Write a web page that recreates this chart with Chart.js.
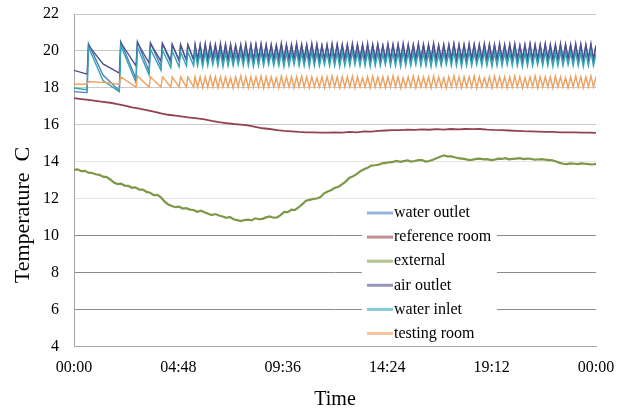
<!DOCTYPE html>
<html>
<head>
<meta charset="utf-8">
<script src="https://cdn.jsdelivr.net/npm/chart.js@4"></script>
<style>
  html, body { margin: 0; padding: 0; background: #fff; }
  #wrap { position: relative; width: 629px; height: 412px; }
</style>
</head>
<body>
<div id="wrap"><canvas id="chart"></canvas></div>
<script>
// minutes since midnight for the cycling series (logger samples at peaks / troughs)
const cycleTime = [0, 36, 40, 80, 125, 129, 171, 175, 207, 211, 240, 244, 267, 271, 290, 294, 310, 314, 330, 334,
  341, 348, 355, 362, 369, 376, 383, 390, 397, 404, 411, 418, 425, 432, 439, 446, 453, 460, 467, 474,
  481, 488, 495, 502, 509, 516, 523, 530, 537, 544, 551, 558, 565, 572, 579, 586, 593, 600, 607, 614,
  621, 628, 635, 642, 649, 656, 663, 670, 677, 684, 691, 698, 705, 712, 719, 726, 733, 740, 747, 754,
  761, 768, 775, 782, 789, 796, 803, 810, 817, 824, 831, 838, 845, 852, 859, 866, 873, 880, 887, 894,
  901, 908, 915, 922, 929, 936, 943, 950, 957, 964, 971, 978, 985, 992, 999, 1006, 1013, 1020, 1027, 1034,
  1041, 1048, 1055, 1062, 1069, 1076, 1083, 1090, 1097, 1104, 1111, 1118, 1125, 1132, 1139, 1146, 1153, 1160, 1167, 1174,
  1181, 1188, 1195, 1202, 1209, 1216, 1223, 1230, 1237, 1244, 1251, 1258, 1265, 1272, 1279, 1286, 1293, 1300, 1307, 1314,
  1321, 1328, 1335, 1342, 1349, 1356, 1363, 1370, 1377, 1384, 1391, 1398, 1405, 1412, 1419, 1426, 1433, 1440];

const waterOutlet = [17.8, 17.75, 20.4, 18.7, 17.85, 20.5, 18.5, 20.5, 18.9, 20.45, 19.15, 20.4, 19.35, 20.35, 19.45, 20.3, 19.5, 20.3, 19.55, 20.3,
  19.6,20.3,19.55,20.3,19.6,20.35,19.6,20.3,19.65,20.3,
  19.6,20.35,19.55,20.3,19.6,20.3,19.6,20.25,19.65,20.3,
  19.6,20.3,19.55,20.35,19.6,20.3,19.6,20.3,19.55,20.3,
  19.6,20.3,19.65,20.35,19.6,20.3,19.6,20.3,19.55,20.35,
  19.6,20.3,19.6,20.3,19.65,20.3,19.6,20.35,19.6,20.3,
  19.55,20.3,19.6,20.3,19.6,20.35,19.65,20.3,19.6,20.3,
  19.6,20.3,19.55,20.35,19.6,20.3,19.6,20.3,19.65,20.3,
  19.6,20.35,19.6,20.3,19.55,20.3,19.6,20.3,19.6,20.35,
  19.65,20.3,19.6,20.3,19.6,20.3,19.55,20.35,19.6,20.3,
  19.6,20.3,19.65,20.35,19.6,20.3,19.6,20.3,19.55,20.3,
  19.6,20.35,19.6,20.3,19.65,20.3,19.6,20.3,19.6,20.35,
  19.55,20.3,19.6,20.3,19.6,20.35,19.65,20.3,19.6,20.3,
  19.6,20.3,19.55,20.35,19.6,20.3,19.6,20.3,19.65,20.3,
  19.6,20.35,19.6,20.3,19.55,20.3,19.6,20.35,19.6,20.3,
  19.65,20.3,19.6,20.3,19.6,20.35,19.55,20.3,19.6,20.3,
  19.6,20.35,19.6,20.3,19.65,20.3,19.6,20.3];

const airOutlet = [18.95, 18.75, 20.3, 19.3, 18.8, 20.45, 19.2, 20.45, 19.35, 20.4, 19.45, 20.4, 19.5, 20.35, 19.5, 20.35, 19.5, 20.35, 19.5, 20.35,
  19.5,20.35,19.45,20.4,19.5,20.35,19.55,20.35,19.5,20.4,
  19.45,20.35,19.5,20.35,19.5,20.3,19.55,20.35,19.5,20.4,
  19.5,20.35,19.45,20.35,19.5,20.4,19.5,20.35,19.55,20.35,
  19.5,20.3,19.5,20.4,19.45,20.35,19.5,20.35,19.55,20.4,
  19.5,20.35,19.5,20.35,19.45,20.4,19.5,20.35,19.5,20.3,
  19.55,20.35,19.5,20.4,19.5,20.35,19.45,20.35,19.5,20.35,
  19.5,20.4,19.55,20.35,19.5,20.35,19.5,20.4,19.45,20.35,
  19.5,20.35,19.5,20.3,19.55,20.4,19.5,20.35,19.5,20.35,
  19.45,20.4,19.5,20.35,19.5,20.35,19.55,20.4,19.5,20.35,
  19.5,20.35,19.45,20.4,19.5,20.3,19.5,20.35,19.55,20.35,
  19.5,20.4,19.5,20.35,19.45,20.35,19.5,20.4,19.5,20.35,
  19.55,20.35,19.5,20.4,19.5,20.35,19.45,20.35,19.5,20.4,
  19.5,20.35,19.55,20.35,19.5,20.4,19.5,20.3,19.45,20.35,
  19.5,20.4,19.5,20.35,19.55,20.35,19.5,20.4,19.5,20.35,
  19.45,20.35,19.5,20.4,19.5,20.35,19.55,20.35,19.5,20.4,
  19.5,20.35,19.45,20.35,19.5,20.4,19.5,20.3];

const waterInlet = [18.0, 17.9, 20.2, 18.4, 17.8, 20.3, 18.3, 20.2, 18.7, 20.1, 18.95, 20.05, 19.1, 20.0, 19.15, 19.95, 19.2, 19.95, 19.2, 19.95,
  19.2,19.9,19.15,19.95,19.2,19.9,19.25,19.9,19.2,19.95,
  19.15,19.9,19.2,19.9,19.2,19.85,19.25,19.9,19.2,19.95,
  19.2,19.9,19.15,19.9,19.2,19.95,19.2,19.9,19.25,19.9,
  19.2,19.85,19.2,19.95,19.15,19.9,19.2,19.9,19.25,19.95,
  19.2,19.9,19.2,19.9,19.15,19.95,19.2,19.9,19.2,19.85,
  19.25,19.9,19.2,19.95,19.2,19.9,19.15,19.9,19.2,19.9,
  19.2,19.95,19.25,19.9,19.2,19.9,19.2,19.95,19.15,19.9,
  19.2,19.9,19.2,19.85,19.25,19.95,19.2,19.9,19.2,19.9,
  19.15,19.95,19.2,19.9,19.2,19.9,19.25,19.95,19.2,19.9,
  19.2,19.9,19.15,19.95,19.2,19.85,19.2,19.9,19.25,19.9,
  19.2,19.95,19.2,19.9,19.15,19.9,19.2,19.95,19.2,19.9,
  19.25,19.9,19.2,19.95,19.2,19.9,19.15,19.9,19.2,19.95,
  19.2,19.9,19.25,19.9,19.2,19.95,19.2,19.85,19.15,19.9,
  19.2,19.95,19.2,19.9,19.25,19.9,19.2,19.95,19.2,19.9,
  19.15,19.9,19.2,19.95,19.2,19.9,19.25,19.9,19.2,19.95,
  19.2,19.9,19.15,19.9,19.2,19.95,19.2,19.85];

const testingRoom = [18.2, 18.2, 18.35, 18.3, 18.2, 18.6, 18.05, 18.65, 18.05, 18.6, 18.05, 18.6, 18.05, 18.6, 18.05, 18.6, 18.05, 18.6, 18.05, 18.6,
  18.05,18.6,18.0,18.6,18.05,18.65,18.05,18.6,18.0,18.6,
  18.05,18.6,18.05,18.55,18.0,18.6,18.05,18.65,18.05,18.6,
  18.0,18.6,18.05,18.6,18.05,18.65,18.0,18.6,18.05,18.6,
  18.05,18.55,18.0,18.65,18.05,18.6,18.05,18.6,18.0,18.6,
  18.05,18.65,18.05,18.6,18.0,18.6,18.05,18.55,18.05,18.6,
  18.0,18.6,18.05,18.65,18.05,18.6,18.0,18.6,18.05,18.6,
  18.05,18.65,18.0,18.6,18.05,18.55,18.05,18.6,18.0,18.65,
  18.05,18.6,18.05,18.6,18.0,18.6,18.05,18.65,18.05,18.6,
  18.0,18.55,18.05,18.6,18.05,18.65,18.0,18.6,18.05,18.6,
  18.05,18.6,18.0,18.65,18.05,18.6,18.05,18.55,18.0,18.6,
  18.05,18.65,18.05,18.6,18.0,18.6,18.05,18.6,18.05,18.65,
  18.0,18.6,18.05,18.55,18.05,18.6,18.0,18.65,18.05,18.6,
  18.05,18.6,18.0,18.6,18.05,18.65,18.05,18.6,18.0,18.55,
  18.05,18.6,18.05,18.65,18.0,18.6,18.05,18.6,18.05,18.6,
  18.0,18.65,18.05,18.6,18.05,18.55,18.0,18.6,18.05,18.65,
  18.05,18.6,18.0,18.6,18.05,18.65,18.05,18.6];

// reference room, every 20 minutes
const slowTime = [0, 20, 40, 60, 80, 100, 120, 140, 160, 180, 200, 220, 240, 260, 280, 300, 320, 340, 360, 380,
  400, 420, 440, 460, 480, 500, 520, 540, 560, 580, 600, 620, 640, 660, 680, 700, 720, 740, 760, 780,
  800, 820, 840, 860, 880, 900, 920, 940, 960, 980, 1000, 1020, 1040, 1060, 1080, 1100, 1120, 1140, 1160, 1180,
  1200, 1220, 1240, 1260, 1280, 1300, 1320, 1340, 1360, 1380, 1400, 1420, 1440];

const referenceRoom = [17.45, 17.4, 17.35, 17.3, 17.25, 17.2, 17.12, 17.05, 16.95, 16.88, 16.8, 16.72, 16.62, 16.55, 16.5, 16.45, 16.4, 16.35, 16.3, 16.22,
  16.15, 16.1, 16.05, 16.02, 15.98, 15.9, 15.82, 15.78, 15.72, 15.68, 15.65, 15.62, 15.6, 15.6, 15.58, 15.58, 15.6, 15.58, 15.62, 15.6,
  15.65, 15.64, 15.68, 15.7, 15.72, 15.72, 15.75, 15.73, 15.76, 15.74, 15.77, 15.75, 15.78, 15.76, 15.78, 15.77, 15.78, 15.75, 15.73, 15.72,
  15.7, 15.68, 15.66, 15.65, 15.64, 15.62, 15.62, 15.6, 15.6, 15.6, 15.58, 15.58, 15.57];

// external, every 10 minutes
const fineTime = [0, 10, 20, 30, 40, 50, 60, 70, 80, 90, 100, 110, 120, 130, 140, 150, 160, 170, 180, 190,
  200, 210, 220, 230, 240, 250, 260, 270, 280, 290, 300, 310, 320, 330, 340, 350, 360, 370, 380, 390,
  400, 410, 420, 430, 440, 450, 460, 470, 480, 490, 500, 510, 520, 530, 540, 550, 560, 570, 580, 590,
  600, 610, 620, 630, 640, 650, 660, 670, 680, 690, 700, 710, 720, 730, 740, 750, 760, 770, 780, 790,
  800, 810, 820, 830, 840, 850, 860, 870, 880, 890, 900, 910, 920, 930, 940, 950, 960, 970, 980, 990,
  1000, 1010, 1020, 1030, 1040, 1050, 1060, 1070, 1080, 1090, 1100, 1110, 1120, 1130, 1140, 1150, 1160, 1170, 1180, 1190,
  1200, 1210, 1220, 1230, 1240, 1250, 1260, 1270, 1280, 1290, 1300, 1310, 1320, 1330, 1340, 1350, 1360, 1370, 1380, 1390,
  1400, 1410, 1420, 1430, 1440];

const external = [13.57, 13.6, 13.5, 13.52, 13.42, 13.4, 13.33, 13.3, 13.2, 13.18, 13.05, 12.88, 12.8, 12.82, 12.72, 12.7, 12.6, 12.62, 12.5, 12.5,
  12.38, 12.33, 12.2, 12.22, 12.08, 11.85, 11.7, 11.62, 11.55, 11.58, 11.48, 11.5, 11.42, 11.4, 11.3, 11.36, 11.28, 11.2, 11.12, 11.18,
  11.1, 11.05, 10.98, 11.02, 10.9, 10.85, 10.8, 10.86, 10.88, 10.84, 10.95, 10.9, 10.92, 11.0, 11.05, 10.98, 11.0, 11.12, 11.3, 11.28,
  11.42, 11.4, 11.55, 11.72, 11.9, 11.95, 12.0, 12.02, 12.1, 12.3, 12.4, 12.48, 12.6, 12.66, 12.8, 12.95, 13.15, 13.22, 13.35, 13.5,
  13.6, 13.68, 13.8, 13.82, 13.85, 13.92, 13.95, 13.98, 14.0, 14.05, 14.0, 14.04, 14.08, 14.02, 14.05, 14.1, 14.1, 14.02, 14.05, 14.12,
  14.2, 14.28, 14.35, 14.3, 14.3, 14.25, 14.2, 14.18, 14.15, 14.1, 14.12, 14.16, 14.18, 14.14, 14.15, 14.1, 14.12, 14.18, 14.16, 14.2,
  14.14, 14.16, 14.18, 14.2, 14.15, 14.18, 14.17, 14.12, 14.13, 14.15, 14.12, 14.1, 14.08, 14.02, 13.95, 13.9, 13.88, 13.92, 13.9, 13.88,
  13.92, 13.9, 13.88, 13.86, 13.9];

const timeTickLabels = ['00:00', '04:48', '09:36', '14:24', '19:12', '00:00'];
const yTitle = 'Temperature  C';
const xTitle = 'Time';

const serif = '"Liberation Serif", "Times New Roman", serif';

function pairs(times, values) {
  return times.map((t, i) => ({x: t, y: values[i]}));
}

// y軸タイトルと凡例（プロット内）を描く
const overlayPlugin = {
  id: 'overlay',
  afterDraw(chart) {
    const ctx = chart.ctx;
    const area = chart.chartArea;
    ctx.save();
    ctx.translate(23, area.top + 201);
    ctx.rotate(-Math.PI / 2);
    ctx.font = '22px ' + serif;
    ctx.fillStyle = '#000';
    ctx.textAlign = 'center';
    ctx.textBaseline = 'middle';
    ctx.fillText(yTitle, 0, 0);
    ctx.restore();

    const bx = area.left + 288;
    const by = area.top + 188;
    ctx.save();
    ctx.fillStyle = '#fff';
    ctx.fillRect(bx, by, 135, 142);
    ctx.font = '16px ' + serif;
    ctx.textBaseline = 'middle';
    chart.data.datasets.forEach((ds, i) => {
      const y = area.top + 199 + i * 24.1;
      ctx.globalAlpha = 0.6;
      ctx.strokeStyle = ds.borderColor;
      ctx.lineWidth = 3;
      ctx.beginPath();
      ctx.moveTo(bx + 5, y);
      ctx.lineTo(bx + 31, y);
      ctx.stroke();
      ctx.globalAlpha = 1;
      ctx.fillStyle = '#000';
      ctx.fillText(ds.label, bx + 32, y);
    });
    ctx.restore();
  }
};

function gridColor(c) {
  const v = c.tick.value;
  if (v <= 4) return '#a6a6a6';
  if (v <= 10) return '#8c8c8c';
  if (v <= 14) return '#e4e4e4';
  return '#c9c9c9';
}

new Chart(document.getElementById('chart'), {
  type: 'line',
  data: {
    datasets: [
      {label: 'water outlet', data: pairs(cycleTime, waterOutlet), borderColor: '#4f7fbf', borderWidth: 1.4, order: 5},
      {label: 'reference room', data: pairs(slowTime, referenceRoom), borderColor: '#93424f', borderWidth: 1.8, order: 4},
      {label: 'external', data: pairs(fineTime, external), borderColor: '#7d9848', borderWidth: 2.2, order: 3},
      {label: 'air outlet', data: pairs(cycleTime, airOutlet), borderColor: '#50508e', borderWidth: 1.4, order: 2},
      {label: 'water inlet', data: pairs(cycleTime, waterInlet), borderColor: '#35a3b5', borderWidth: 1.4, order: 1},
      {label: 'testing room', data: pairs(cycleTime, testingRoom), borderColor: '#eea060', borderWidth: 1.4, order: 0}
    ]
  },
  options: {
    responsive: true,
    maintainAspectRatio: false,
    animation: false,
    elements: {point: {radius: 0}, line: {tension: 0}},
    layout: {padding: {left: 28, right: 33, top: 0, bottom: 0}},
    plugins: {legend: {display: false}, tooltip: {enabled: false}},
    scales: {
      x: {
        type: 'linear',
        min: 0,
        max: 1440,
        grid: {drawOnChartArea: false, drawTicks: false},
        border: {color: '#a6a6a6', width: 1},
        ticks: {
          stepSize: 288,
          autoSkip: false,
          maxRotation: 0,
          padding: 11,
          color: '#000',
          font: {family: serif, size: 16},
          callback: (value, index) => timeTickLabels[index]
        },
        title: {display: true, text: xTitle, color: '#000', font: {family: serif, size: 20}, padding: {top: 0, bottom: 0}}
      },
      y: {
        min: 4,
        max: 22,
        grid: {color: gridColor, drawTicks: false},
        border: {color: '#a6a6a6', width: 1},
        ticks: {stepSize: 2, padding: 15, color: '#000', font: {family: serif, size: 16}},
        afterFit: (scale) => { scale.paddingTop = 14; }
      }
    }
  },
  plugins: [overlayPlugin]
});
</script>
</body>
</html>
